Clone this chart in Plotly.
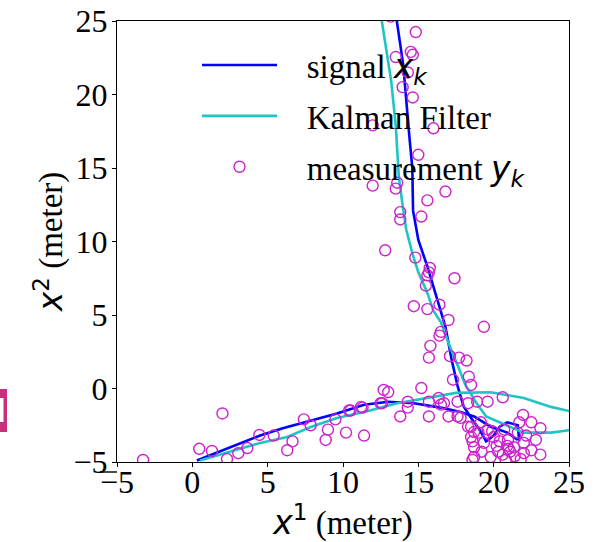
import plotly.graph_objects as go

# ---- signal x_k (two targets, separated by None) ----
sig_x = [0.3, 2.5, 4.5, 6.0, 7.4, 9.6, 11.4, 13.0, 14.7, 16.5, 17.8, 18.7, 19.8, 20.9, 21.6,
         None,
         13.5, 14.0, 14.4, 14.6, 14.65, 15.0, 15.6, 16.3, 16.8, 17.2, 17.6, 18.0, 18.5, 19.0, 19.5,
         20.0, 20.4, 20.9, 21.6, 21.7]
sig_y = [-4.9, -4.0, -3.2, -2.7, -2.3, -1.7, -1.1, -0.9, -1.0, -1.3, -1.6, -1.9, -2.6, -3.0, -3.5,
         None,
         25.5, 22.0, 17.2, 15.0, 12.1, 10.1, 8.3, 6.0, 4.2, 2.0, 0.2, -1.2, -2.0, -2.7, -3.6,
         -3.2, -2.6, -2.3, -2.5, -3.6]

# ---- Kalman filter estimate ----
kf_x = [0.5, 2.5, 4.5, 6.3, 7.9, 9.6, 11.4, 13.6, 15.8, 17.5, 19.8, 22.0, 23.8, 25.3,
        None,
        12.5, 12.8, 13.2, 13.5, 13.7, 14.0, 14.2, 14.6, 15.0, 15.6, 16.0, 16.5, 17.0, 17.6,
        18.1, 18.8, 19.5, 20.5, 22.0, 23.8, 25.3]
kf_y = [-4.9, -4.3, -3.7, -3.3, -2.6, -2.0, -1.6, -1.0, -0.6, -0.3, -0.25, -0.65, -1.25, -1.6,
        None,
        25.5, 23.4, 20.9, 17.9, 14.5, 12.1, 10.8, 9.2, 7.9, 6.5, 5.3, 4.5, 3.1, 1.6,
        0.3, -0.9, -1.9, -2.35, -3.0, -3.0, -2.8]

# ---- measurements y_k ----
meas_x = [14.83, 13.16, 13.5, 14.5, 14.63, 14.3, 13.96, 14.63, 11.97, 16.0, 15.0,
          11.97, 13.6, 13.5, 16.8, 15.6, 13.8, 13.8, 15.2,
          12.8, 14.8, 15.76, 15.7, 15.6, 17.4, 15.5, 14.7, 15.6, 16.4,
          17.0, 19.35, 16.5, 16.4, 15.8, 15.7, 17.1, 17.7, 18.2, 17.3, 18.35, 18.5,
          12.7, 13.0, 15.2, 20.6, 12.5, 14.3, 15.7, 16.5, 16.35, 17.6, 18.3, 18.9, 19.6,
          13.8, 15.7, 17.0, 17.6, 17.8, 11.4, 11.3, 10.2, 10.5, 11.2,
          16.7, 21.95, 22.5, 23.1, 21.7, 18.5, 18.7, 19.35, 20.0, 20.7, 20.95, 21.35, 22.0,
          22.5, 21.1, 20.3, 18.7, 19.8, 23.1, 19.6, 19.15, 18.3, 18.7, 21.6, 22.15, 18.6, 20.8,
          18.6, 19.2, 20.2, 20.6, 21.0, 21.4, 22.0, 19.0, 20.4, 21.8, 22.8, 19.9, 20.9,
          -3.27, 0.46, 1.3, 2.0, 2.3, 3.05, 3.65, 4.45, 5.4, 6.3, 6.65, 7.4, 7.85, 8.85,
          9.0, 9.5, 10.4, 12.6, 14.3, 18.5]
meas_y = [24.25, 25.3, 22.55, 22.9, 22.7, 21.5, 20.5, 19.8, 17.9, 17.7, 15.9,
          13.8, 14.0, 13.6, 13.4, 12.8, 12.0, 11.5, 11.7,
          9.4, 8.9, 8.2, 7.9, 7.7, 7.5, 7.0, 5.6, 5.4, 5.7,
          4.66, 4.2, 3.85, 3.6, 2.9, 2.1, 2.2, 2.1, 1.9, 0.6, 0.8, 0.24,
          -0.1, -0.24, 0.03, -0.6, -1.0, -1.3, -0.9, -1.1, -0.65, -0.9, -1.0, -0.9, -0.9,
          -1.9, -1.9, -1.9, -1.9, -2.0, -3.2, -1.3, -3.0, -1.5, -1.25,
          -1.0, -1.8, -2.3, -2.7, -2.3, -3.3, -4.0, -3.7, -3.3, -2.8, -3.5, -4.0, -3.7,
          -4.2, -4.3, -4.3, -4.66, -4.66, -4.5, -2.8, -2.3, -2.6, -2.96, -3.0, -3.2, -4.86, -4.86,
          -3.6, -4.3, -3.9, -4.5, -4.1, -4.6, -4.4, -3.0, -3.6, -4.8, -3.5, -2.9, -3.9,
          -4.86, -4.1, -4.25, -1.7, -4.8, -4.4, -4.05, -3.16, -3.2, -4.2, -3.6, -2.1, -2.5, -3.5,
          -2.8, -2.1, -1.5, -1.0, -0.9, -2.6]

x_ticks = [-5, 0, 5, 10, 15, 20, 25]
y_ticks = [-5, 0, 5, 10, 15, 20, 25]
tick_text = ["\u22125", "0", "5", "10", "15", "20", "25"]

SERIF = "Liberation Serif"
MATH = "DejaVu Sans"
SP = "\u00a0\u00a0\u00a0"

fig = go.Figure()
fig.add_trace(go.Scatter(
    x=sig_x, y=sig_y, mode="lines", legendgroup="a",
    name=f"{SP}signal <span style='font-family:{MATH}'><i>x</i><sub><i>k</i></sub></span>",
    line=dict(color="#0000ff", width=2.6)))
fig.add_trace(go.Scatter(
    x=kf_x, y=kf_y, mode="lines", legendgroup="b",
    name=f"{SP}Kalman Filter",
    line=dict(color="#1fc4c4", width=2.6)))
fig.add_trace(go.Scatter(
    x=meas_x, y=meas_y, mode="markers", legendgroup="c",
    name=f"{SP}measurement <span style='font-family:{MATH}'><i>y</i><sub><i>k</i></sub></span>",
    marker=dict(symbol="circle-open", size=11, color="#cc22cc", line=dict(width=1.4, color="#cc22cc"))))

W, H = 600, 542
L, R, T, B = 117, 31, 21, 80
pw, ph = W - L - R, H - T - B

def px2paper(px, py):
    return (px - L) / pw, (H - B - py) / ph

axis_common = dict(
    showgrid=False, zeroline=False, showline=True, linecolor="black", linewidth=1.2,
    mirror=True, ticks="outside", ticklen=4, tickcolor="black", tickwidth=1.2,
    tickfont=dict(family=SERIF, size=32, color="black"), automargin=False,
)

fig.update_layout(
    width=W, height=H,
    margin=dict(l=L, r=R, t=T, b=B),
    paper_bgcolor="white", plot_bgcolor="white",
    xaxis=dict(range=[-5, 25], tickvals=x_ticks, ticktext=tick_text, ticklabelstandoff=-13,
               title=dict(text=f"<span style='font-family:{MATH}'><i>x</i><sup>1</sup></span> (meter)",
                          font=dict(family=SERIF, size=33, color="black"), standoff=6),
               **axis_common),
    yaxis=dict(range=[-5, 25], tickvals=y_ticks, ticktext=tick_text, ticklabelstandoff=-2,
               title=dict(text=f"<span style='font-family:{MATH}'><i>x</i><sup>2</sup></span> (meter)",
                          font=dict(family=SERIF, size=33, color="black"), standoff=0),
               **axis_common),
    legend=dict(x=(197 - L) / pw, y=1 - (37 - T) / ph, xanchor="left", yanchor="top",
                bgcolor="rgba(0,0,0,0)", borderwidth=0, itemwidth=75,
                tracegroupgap=5,
                font=dict(family=SERIF, size=33, color="black")),
    showlegend=True,
)

# pink fragment at left edge and stray dash (cropped from a larger figure)
x0, y0 = px2paper(0, 389)
x1, y1 = px2paper(7, 432)
fig.add_shape(type="rect", xref="paper", yref="paper", x0=x0, x1=x1, y0=y1, y1=y0,
              fillcolor="#c8307a", line=dict(width=0), layer="above")
x0, y0 = px2paper(0, 398)
x1, y1 = px2paper(3.5, 422)
fig.add_shape(type="rect", xref="paper", yref="paper", x0=x0, x1=x1, y0=y1, y1=y0,
              fillcolor="white", line=dict(width=0), layer="above")
x0, y0 = px2paper(100, 472)
x1, _ = px2paper(117, 472)
fig.add_shape(type="line", xref="paper", yref="paper", x0=x0, x1=x1, y0=y0, y1=y0,
              line=dict(color="black", width=1.4), layer="above")

fig.write_html("out.html", config={"displayModeBar": False},
               post_script="document.body.style.margin='0px';document.body.style.padding='0px';")
